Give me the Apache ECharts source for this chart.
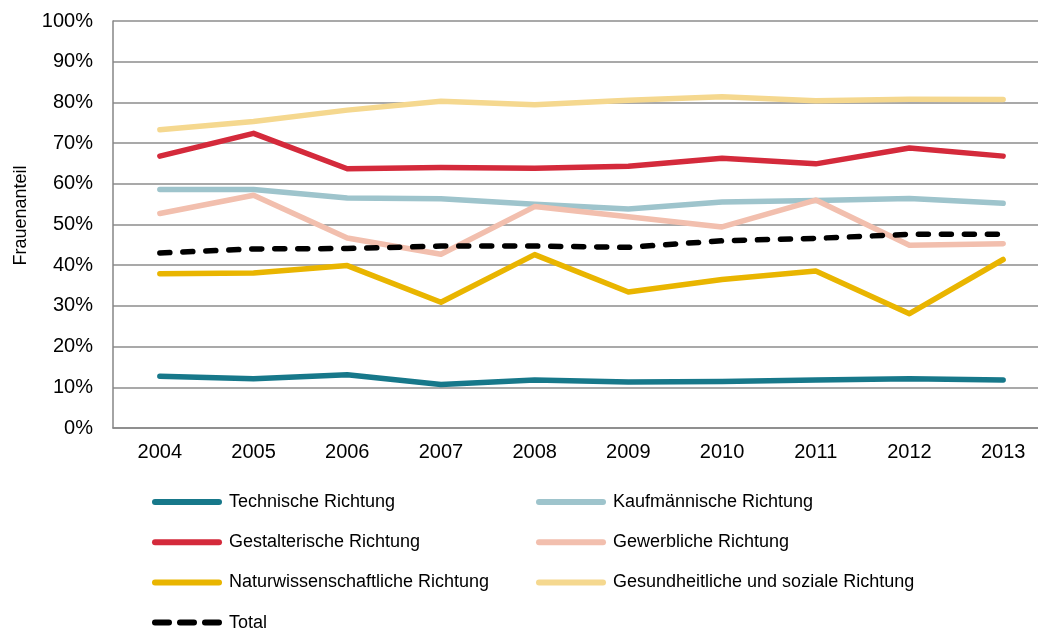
<!DOCTYPE html>
<html>
<head>
<meta charset="utf-8">
<script src="https://cdn.jsdelivr.net/npm/echarts@6/dist/echarts.min.js"></script>
<style>
  html, body { margin: 0; padding: 0; background: #fff; }
  #chart { width: 1038px; height: 632px; }
</style>
</head>
<body>
<div id="chart"></div>
<script>
const years = ['2004', '2005', '2006', '2007', '2008', '2009', '2010', '2011', '2012', '2013']

// Frauenanteil in %
const technische = [12.7, 12.1, 13.1, 10.7, 11.8, 11.3, 11.4, 11.8, 12.1, 11.8]
const kaufmaennische = [58.6, 58.6, 56.5, 56.3, 55.0, 53.8, 55.5, 55.9, 56.4, 55.2]
const gestalterische = [66.8, 72.4, 63.7, 64.0, 63.8, 64.3, 66.3, 64.9, 68.8, 66.8]
const gewerbliche = [52.7, 57.2, 46.7, 42.7, 54.4, 51.9, 49.4, 56.0, 44.9, 45.3]
const naturwiss = [37.9, 38.1, 39.9, 30.9, 42.6, 33.4, 36.5, 38.6, 28.1, 41.4]
const gesundheit = [73.3, 75.3, 78.1, 80.3, 79.4, 80.5, 81.4, 80.4, 80.8, 80.7]
const total = [43.0, 44.0, 44.1, 44.7, 44.7, 44.4, 46.0, 46.6, 47.6, 47.6]

const font = '"Liberation Sans", Arial, sans-serif'

// legend icons: thick rounded bar, and three rounded dashes for Total
const dash = (a, b) => `M${a + 3},0 H${b - 3} A3,3 0 0 1 ${b - 3},6 H${a + 3} A3,3 0 0 1 ${a + 3},0 Z`
const solidIcon = 'path://' + dash(0, 70)
const dashIcon = 'path://' + dash(0, 20) + ' ' + dash(25, 45) + ' ' + dash(50, 70)

const line = (name, data, color, dashed) => ({
  name,
  type: 'line',
  data,
  symbol: 'none',
  lineStyle: {
    color,
    width: 5.5,
    cap: 'round',
    join: 'round',
    type: dashed ? [10, 13] : 'solid',
  },
  itemStyle: { color },
  emphasis: { disabled: true },
})

const legendBase = {
  orient: 'vertical',
  top: 493,
  padding: 0,
  itemWidth: 70,
  itemHeight: 6,
  itemGap: 22.2,
  selectedMode: false,
  textStyle: { fontFamily: font, fontSize: 18, color: '#000', padding: [0, 0, 0, 2] },
}

const chart = echarts.init(document.getElementById('chart'))

chart.setOption({
  animation: false,
  backgroundColor: '#fff',
  textStyle: { fontFamily: font },
  grid: { left: 113, width: 937, top: 21, bottom: 204, outerBoundsMode: 'none' },
  legend: [
    {
      ...legendBase,
      left: 152,
      data: [
        { name: 'Technische Richtung', icon: solidIcon },
        { name: 'Gestalterische Richtung', icon: solidIcon },
        { name: 'Naturwissenschaftliche Richtung', icon: solidIcon },
        { name: 'Total', icon: dashIcon },
      ],
    },
    {
      ...legendBase,
      left: 536,
      data: [
        { name: 'Kaufmännische Richtung', icon: solidIcon },
        { name: 'Gewerbliche Richtung', icon: solidIcon },
        { name: 'Gesundheitliche und soziale Richtung', icon: solidIcon },
      ],
    },
  ],
  xAxis: {
    type: 'category',
    data: years,
    boundaryGap: true,
    axisLine: { lineStyle: { color: '#868686', width: 1.5 } },
    axisTick: { show: false },
    axisLabel: { color: '#000', fontSize: 20, fontFamily: font, margin: 14 },
  },
  yAxis: {
    type: 'value',
    min: 0,
    max: 100,
    interval: 10,
    name: 'Frauenanteil',
    nameLocation: 'middle',
    nameRotate: 90,
    nameGap: 83,
    nameTextStyle: { color: '#000', fontSize: 18, fontFamily: font, padding: [0, 0, 0, 18] },
    axisLine: { show: true, lineStyle: { color: '#868686', width: 1.5 } },
    axisTick: { show: false },
    axisLabel: {
      color: '#000',
      fontSize: 20,
      fontFamily: font,
      margin: 20,
      formatter: v => v + '%',
    },
    splitLine: { lineStyle: { color: '#8c8c8c', width: 1.5 } },
  },
  series: [
    line('Technische Richtung', technische, '#17788a'),
    line('Kaufmännische Richtung', kaufmaennische, '#9ec4cc'),
    line('Gestalterische Richtung', gestalterische, '#d42a3b'),
    line('Gewerbliche Richtung', gewerbliche, '#f2bfae'),
    line('Naturwissenschaftliche Richtung', naturwiss, '#e9b500'),
    line('Gesundheitliche und soziale Richtung', gesundheit, '#f5d88f'),
    line('Total', total, '#000000', true),
  ],
})
</script>
</body>
</html>
